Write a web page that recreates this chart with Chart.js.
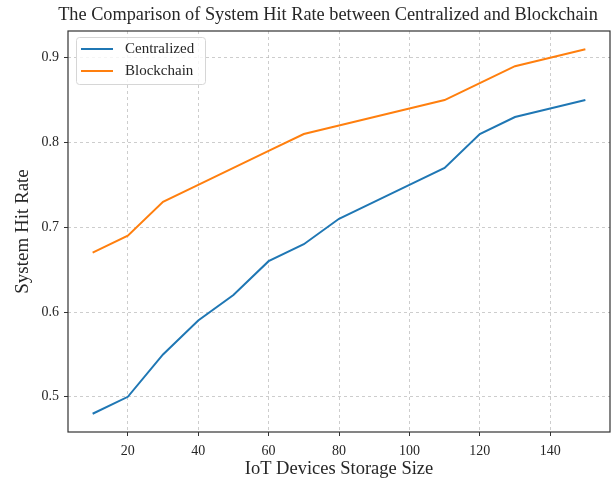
<!DOCTYPE html>
<html>
<head>
<meta charset="utf-8">
<script src="https://cdn.jsdelivr.net/npm/chart.js@4"></script>
<style>
  html, body { margin: 0; padding: 0; background: #fff; }
  #wrap { width: 614px; height: 479px; }
</style>
</head>
<body>
<div id="wrap"><canvas id="chartHit" width="614" height="479"></canvas></div>
<script>
// ── Datos ──
const storageSize = [10, 20, 30, 40, 50, 60, 70, 80, 90, 100, 110, 120, 130, 140, 150];
const centralized = [0.48, 0.50, 0.55, 0.59, 0.62, 0.66, 0.68, 0.71, 0.73, 0.75, 0.77, 0.81, 0.83, 0.84, 0.85];
const blockchain  = [0.67, 0.69, 0.73, 0.75, 0.77, 0.79, 0.81, 0.82, 0.83, 0.84, 0.85, 0.87, 0.89, 0.90, 0.91];
const xTicks = [20, 40, 60, 80, 100, 120, 140];
const yTicks = [0.5, 0.6, 0.7, 0.8, 0.9];
const seriesNames = ['Centralized', 'Blockchain'];
const titleText = 'The Comparison of System Hit Rate between Centralized and Blockchain';

const FONT = "'Liberation Serif', 'DejaVu Serif', serif";
const INK = '#262626';

// Título, marco completo y leyenda dentro del área de la gráfica
const decor = {
  id: 'decor',
  afterDraw(chart) {
    const { ctx, chartArea: a } = chart;
    ctx.save();
    // marco
    ctx.strokeStyle = '#333';
    ctx.lineWidth = 1.2;
    ctx.strokeRect(a.left, a.top, a.right - a.left, a.bottom - a.top);
    // título
    ctx.fillStyle = INK;
    ctx.font = '18.3px ' + FONT;
    ctx.textAlign = 'center';
    ctx.textBaseline = 'middle';
    ctx.fillText(titleText, 328, 15);
    // leyenda
    const bx = a.left + 8, by = a.top + 6, bw = 129, bh = 47;
    ctx.fillStyle = 'rgba(255,255,255,0.8)';
    ctx.strokeStyle = '#d6d6d6';
    ctx.lineWidth = 1;
    ctx.beginPath();
    ctx.roundRect(bx + 0.5, by + 0.5, bw, bh, 3);
    ctx.fill();
    ctx.stroke();
    ctx.font = '15px ' + FONT;
    ctx.textAlign = 'left';
    chart.data.datasets.forEach((ds, i) => {
      const y = by + 12 + i * 22;
      ctx.strokeStyle = ds.borderColor;
      ctx.lineWidth = 2;
      ctx.beginPath();
      ctx.moveTo(bx + 5, y);
      ctx.lineTo(bx + 37, y);
      ctx.stroke();
      ctx.fillStyle = INK;
      ctx.fillText(ds.label, bx + 49, y);
    });
    ctx.restore();
  },
};

const gridOpts = {
  color: 'rgba(176,176,176,0.8)',
  lineWidth: 0.8,
  tickColor: '#333',
  tickLength: 4,
  tickWidth: 1,
  tickBorderDash: [],
  drawOnChartArea: true,
};

const ctx = document.getElementById('chartHit').getContext('2d');
const chart = new Chart(ctx, {
  type: 'line',
  data: {
    datasets: [
      {
        label: seriesNames[0],
        data: storageSize.map((x, i) => ({ x, y: centralized[i] })),
        borderColor: '#1f77b4',
        borderWidth: 2,
        pointRadius: 0,
        tension: 0,
        fill: false,
      },
      {
        label: seriesNames[1],
        data: storageSize.map((x, i) => ({ x, y: blockchain[i] })),
        borderColor: '#ff7f0e',
        borderWidth: 2,
        pointRadius: 0,
        tension: 0,
        fill: false,
      },
    ],
  },
  options: {
    responsive: false,
    animation: false,
    layout: { padding: { top: 31, right: 4, left: 0, bottom: 0 } },
    plugins: {
      legend: { display: false },
      title: { display: false },
      tooltip: { enabled: false },
    },
    scales: {
      x: {
        type: 'linear',
        min: 3,
        max: 157,
        border: { display: false, dash: [3, 3] },
        grid: gridOpts,
        afterBuildTicks: (s) => { s.ticks = xTicks.map((v) => ({ value: v })); },
        afterFit: (s) => { s.height = 47; },
        ticks: { color: INK, font: { family: FONT, size: 14 }, padding: 7, maxRotation: 0 },
        title: {
          display: true,
          text: 'IoT Devices Storage Size',
          color: INK,
          font: { family: FONT, size: 18.5, lineHeight: 1 },
          padding: { top: 0, bottom: 1 },
        },
      },
      y: {
        type: 'linear',
        min: 0.4585,
        max: 0.9315,
        border: { display: false, dash: [3, 3] },
        grid: gridOpts,
        afterBuildTicks: (s) => { s.ticks = yTicks.map((v) => ({ value: v })); },
        afterFit: (s) => { s.width = 68; },
        ticks: { color: INK, font: { family: FONT, size: 14 }, padding: 5, callback: (v) => v.toFixed(1) },
        title: {
          display: true,
          text: 'System Hit Rate',
          color: INK,
          font: { family: FONT, size: 19, lineHeight: 1.2 },
          padding: { top: 12, bottom: 0 },
        },
      },
    },
  },
  plugins: [decor],
});
</script>
</body>
</html>
